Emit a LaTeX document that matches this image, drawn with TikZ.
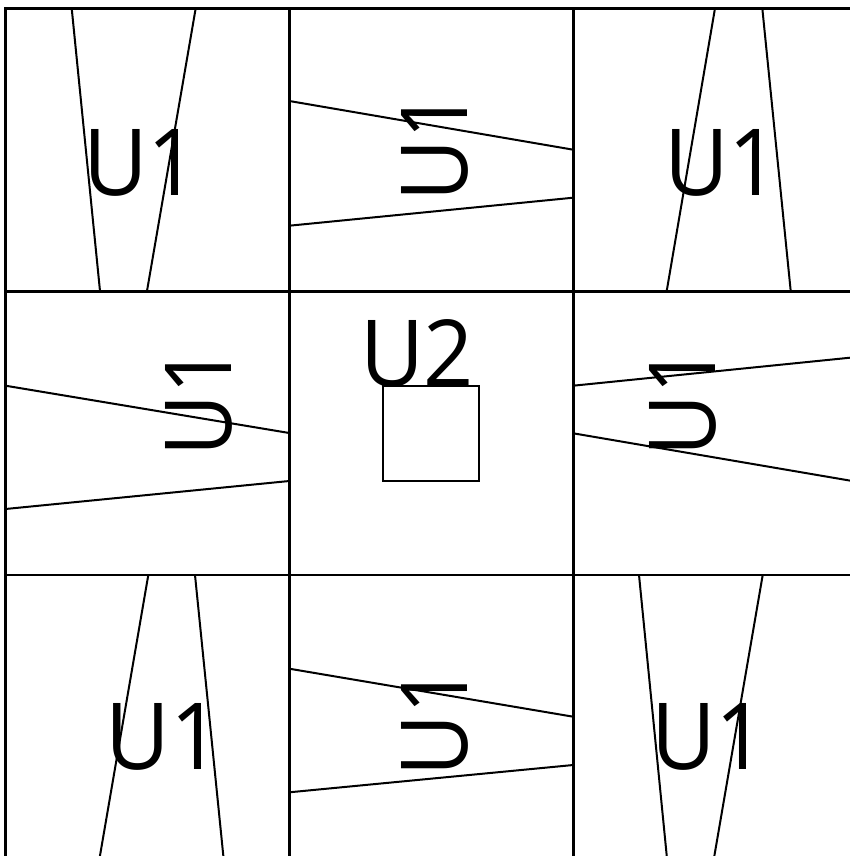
\documentclass[tikz,border=0pt]{standalone}
\usepackage{fontspec}
\setmainfont{Open Sans}
\usepackage{graphicx}
\begin{document}
\begin{tikzpicture}[x=1pt,y=-1pt,
  cellbox/.style={draw=black,line width=2.6pt},
  edge/.style={draw=black,line width=2pt},
  padbox/.style={draw=black,line width=1.8pt},
  lbl/.style={inner sep=0pt,outer sep=0pt,font=\fontsize{92.5}{92.5}\selectfont,anchor=base west},
  rlbl/.style={lbl,rotate=90}]
\useasboundingbox (0,0) rectangle (850,856);
\clip (0,0) rectangle (850,856);
\fill[white] (0,0) rectangle (850,856);
% grid cells
\foreach \i/\x in {0/5.5,1/289.3,2/573.2}{
  \foreach \j/\y in {0/8.3,1/291,2/575}{
    \draw[cellbox] (\x,\y) rectangle ++(283.8,283.8);
  }
}
% cell (0,0)
\draw[edge] (71.7,8.3) -- (100,291);
\draw[edge] (195.7,8.3) -- (147,291);
% cell (1,0)
\draw[edge] (289.3,101) -- (573.2,149.7);
\draw[edge] (289.3,225.7) -- (573.2,197.7);
% cell (2,0)
\draw[edge] (715,8.3) -- (666.7,291);
\draw[edge] (762.3,8.3) -- (790.7,291);
% cell (0,1)
\draw[edge] (5.5,385.7) -- (289.3,433);
\draw[edge] (5.5,509) -- (289.3,481);
% cell (2,1)
\draw[edge] (573.2,385.7) -- (857,357);
\draw[edge] (573.2,433.3) -- (857,481.8);
% cell (0,2)
\draw[edge] (148.3,575) -- (99.5,858.5);
\draw[edge] (195,575) -- (223.6,858.5);
% cell (1,2)
\draw[edge] (289.3,668.7) -- (573.2,716.7);
\draw[edge] (289.3,792.3) -- (573.2,765);
% cell (2,2)
\draw[edge] (639,575) -- (667,858.5);
\draw[edge] (762.7,575) -- (713.9,858.5);
% centre pad
\draw[padbox] (382.7,386) rectangle (478.7,481);
% labels
\node[lbl] (t00) at (83,195) {\scalebox{0.96}[1]{U1}};
\node[lbl] (t20) at (664,195) {\scalebox{0.96}[1]{U1}};
\node[lbl] (t02) at (105.6,769.3) {\scalebox{0.96}[1]{U1}};
\node[lbl] (t22) at (651.3,769.3) {\scalebox{0.96}[1]{U1}};
\node[lbl] (t11) at (360,386) {\scalebox{0.95}[1]{U2}};
\node[rlbl] (t10) at (467.3,201) {\scalebox{0.92}[1]{U1}};
\node[rlbl] (t01) at (231.7,456.7) {\scalebox{0.92}[1]{U1}};
\node[rlbl] (t21) at (715,456.7) {\scalebox{0.92}[1]{U1}};
\node[rlbl] (t12) at (467.3,776) {\scalebox{0.92}[1]{U1}};
\end{tikzpicture}
\end{document}
